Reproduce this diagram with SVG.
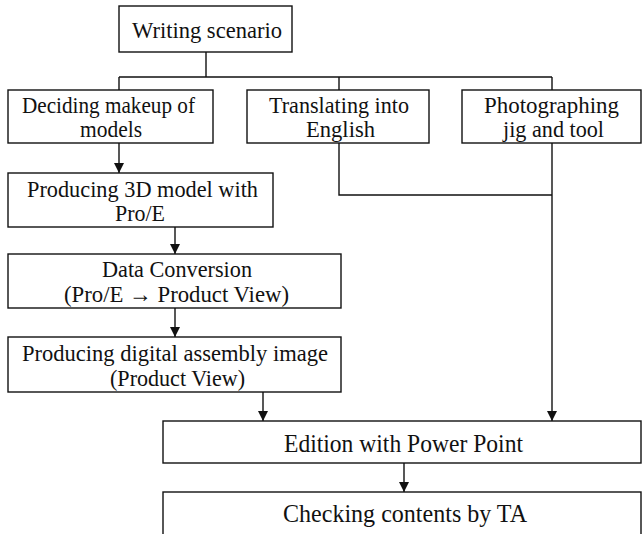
<svg xmlns="http://www.w3.org/2000/svg" width="642" height="534" viewBox="0 0 642 534">
<style>
.box{fill:#fff;stroke:#111;stroke-width:1.4}
.lbl{font-family:"Liberation Serif","Times New Roman",serif;font-size:24px;fill:#111;text-anchor:middle}
.big{font-size:26px}
.con{fill:none;stroke:#111;stroke-width:1.4}
</style>
<defs>
<marker id="ah" viewBox="0 0 10 10" refX="10" refY="5" markerWidth="10" markerHeight="10" markerUnits="userSpaceOnUse" orient="auto">
<path d="M0,0 L10,5 L0,10 Z" fill="#111"/>
</marker>
</defs>
<rect width="642" height="534" fill="#fff"/>
<g id="connectors">
<path class="con" d="M206,52 V77 M119,77 H552 M119,77 V90 M339,77 V90 M552,77 V90"/>
<path class="con" d="M339,143 V195 H552"/>
<line class="con" x1="119" y1="143" x2="119" y2="173" marker-end="url(#ah)"/>
<line class="con" x1="175" y1="227" x2="175" y2="254" marker-end="url(#ah)"/>
<line class="con" x1="175" y1="308" x2="175" y2="337" marker-end="url(#ah)"/>
<line class="con" x1="263" y1="392" x2="263" y2="421" marker-end="url(#ah)"/>
<line class="con" x1="552" y1="143" x2="552" y2="421" marker-end="url(#ah)"/>
<line class="con" x1="404" y1="463" x2="404" y2="492" marker-end="url(#ah)"/>
</g>
<g id="writing">
<rect class="box" x="119" y="6" width="173" height="46"/>
<text class="lbl" x="207" y="38" textLength="150" lengthAdjust="spacingAndGlyphs">Writing scenario</text>
</g>
<g id="deciding">
<rect class="box" x="8" y="90" width="205" height="53"/>
<text class="lbl" x="108.5" y="113" textLength="173" lengthAdjust="spacingAndGlyphs">Deciding makeup of</text>
<text class="lbl" x="111" y="137" textLength="62" lengthAdjust="spacingAndGlyphs">models</text>
</g>
<g id="translating">
<rect class="box" x="247" y="90" width="182" height="53"/>
<text class="lbl" x="339" y="113" textLength="140" lengthAdjust="spacingAndGlyphs">Translating into</text>
<text class="lbl" x="340.5" y="137" textLength="69" lengthAdjust="spacingAndGlyphs">English</text>
</g>
<g id="photographing">
<rect class="box" x="462" y="90" width="179" height="53"/>
<text class="lbl" x="551.5" y="113" textLength="135" lengthAdjust="spacingAndGlyphs">Photographing</text>
<text class="lbl" x="553.5" y="137" textLength="101" lengthAdjust="spacingAndGlyphs">jig and tool</text>
</g>
<g id="producing3d">
<rect class="box" x="8" y="173" width="265" height="54"/>
<text class="lbl" x="142.5" y="197" textLength="231" lengthAdjust="spacingAndGlyphs">Producing 3D model with</text>
<text class="lbl" x="140" y="221" textLength="50" lengthAdjust="spacingAndGlyphs">Pro/E</text>
</g>
<g id="conversion">
<rect class="box" x="8" y="254" width="333" height="54"/>
<text class="lbl" x="177" y="277" textLength="150" lengthAdjust="spacingAndGlyphs">Data Conversion</text>
<text class="lbl" x="176.5" y="302" textLength="225" lengthAdjust="spacingAndGlyphs">(Pro/E → Product View)</text>
</g>
<g id="digital">
<rect class="box" x="8" y="337" width="333" height="55"/>
<text class="lbl" x="175" y="361" textLength="306" lengthAdjust="spacingAndGlyphs">Producing digital assembly image</text>
<text class="lbl" x="177.5" y="386" textLength="135" lengthAdjust="spacingAndGlyphs">(Product View)</text>
</g>
<g id="edition">
<rect class="box" x="163" y="421" width="478" height="42"/>
<text class="lbl big" x="403.5" y="452" textLength="239" lengthAdjust="spacingAndGlyphs">Edition with Power Point</text>
</g>
<g id="checking">
<rect class="box" x="163" y="492" width="478" height="60"/>
<text class="lbl big" x="405" y="522" textLength="244" lengthAdjust="spacingAndGlyphs">Checking contents by TA</text>
</g>
</svg>
